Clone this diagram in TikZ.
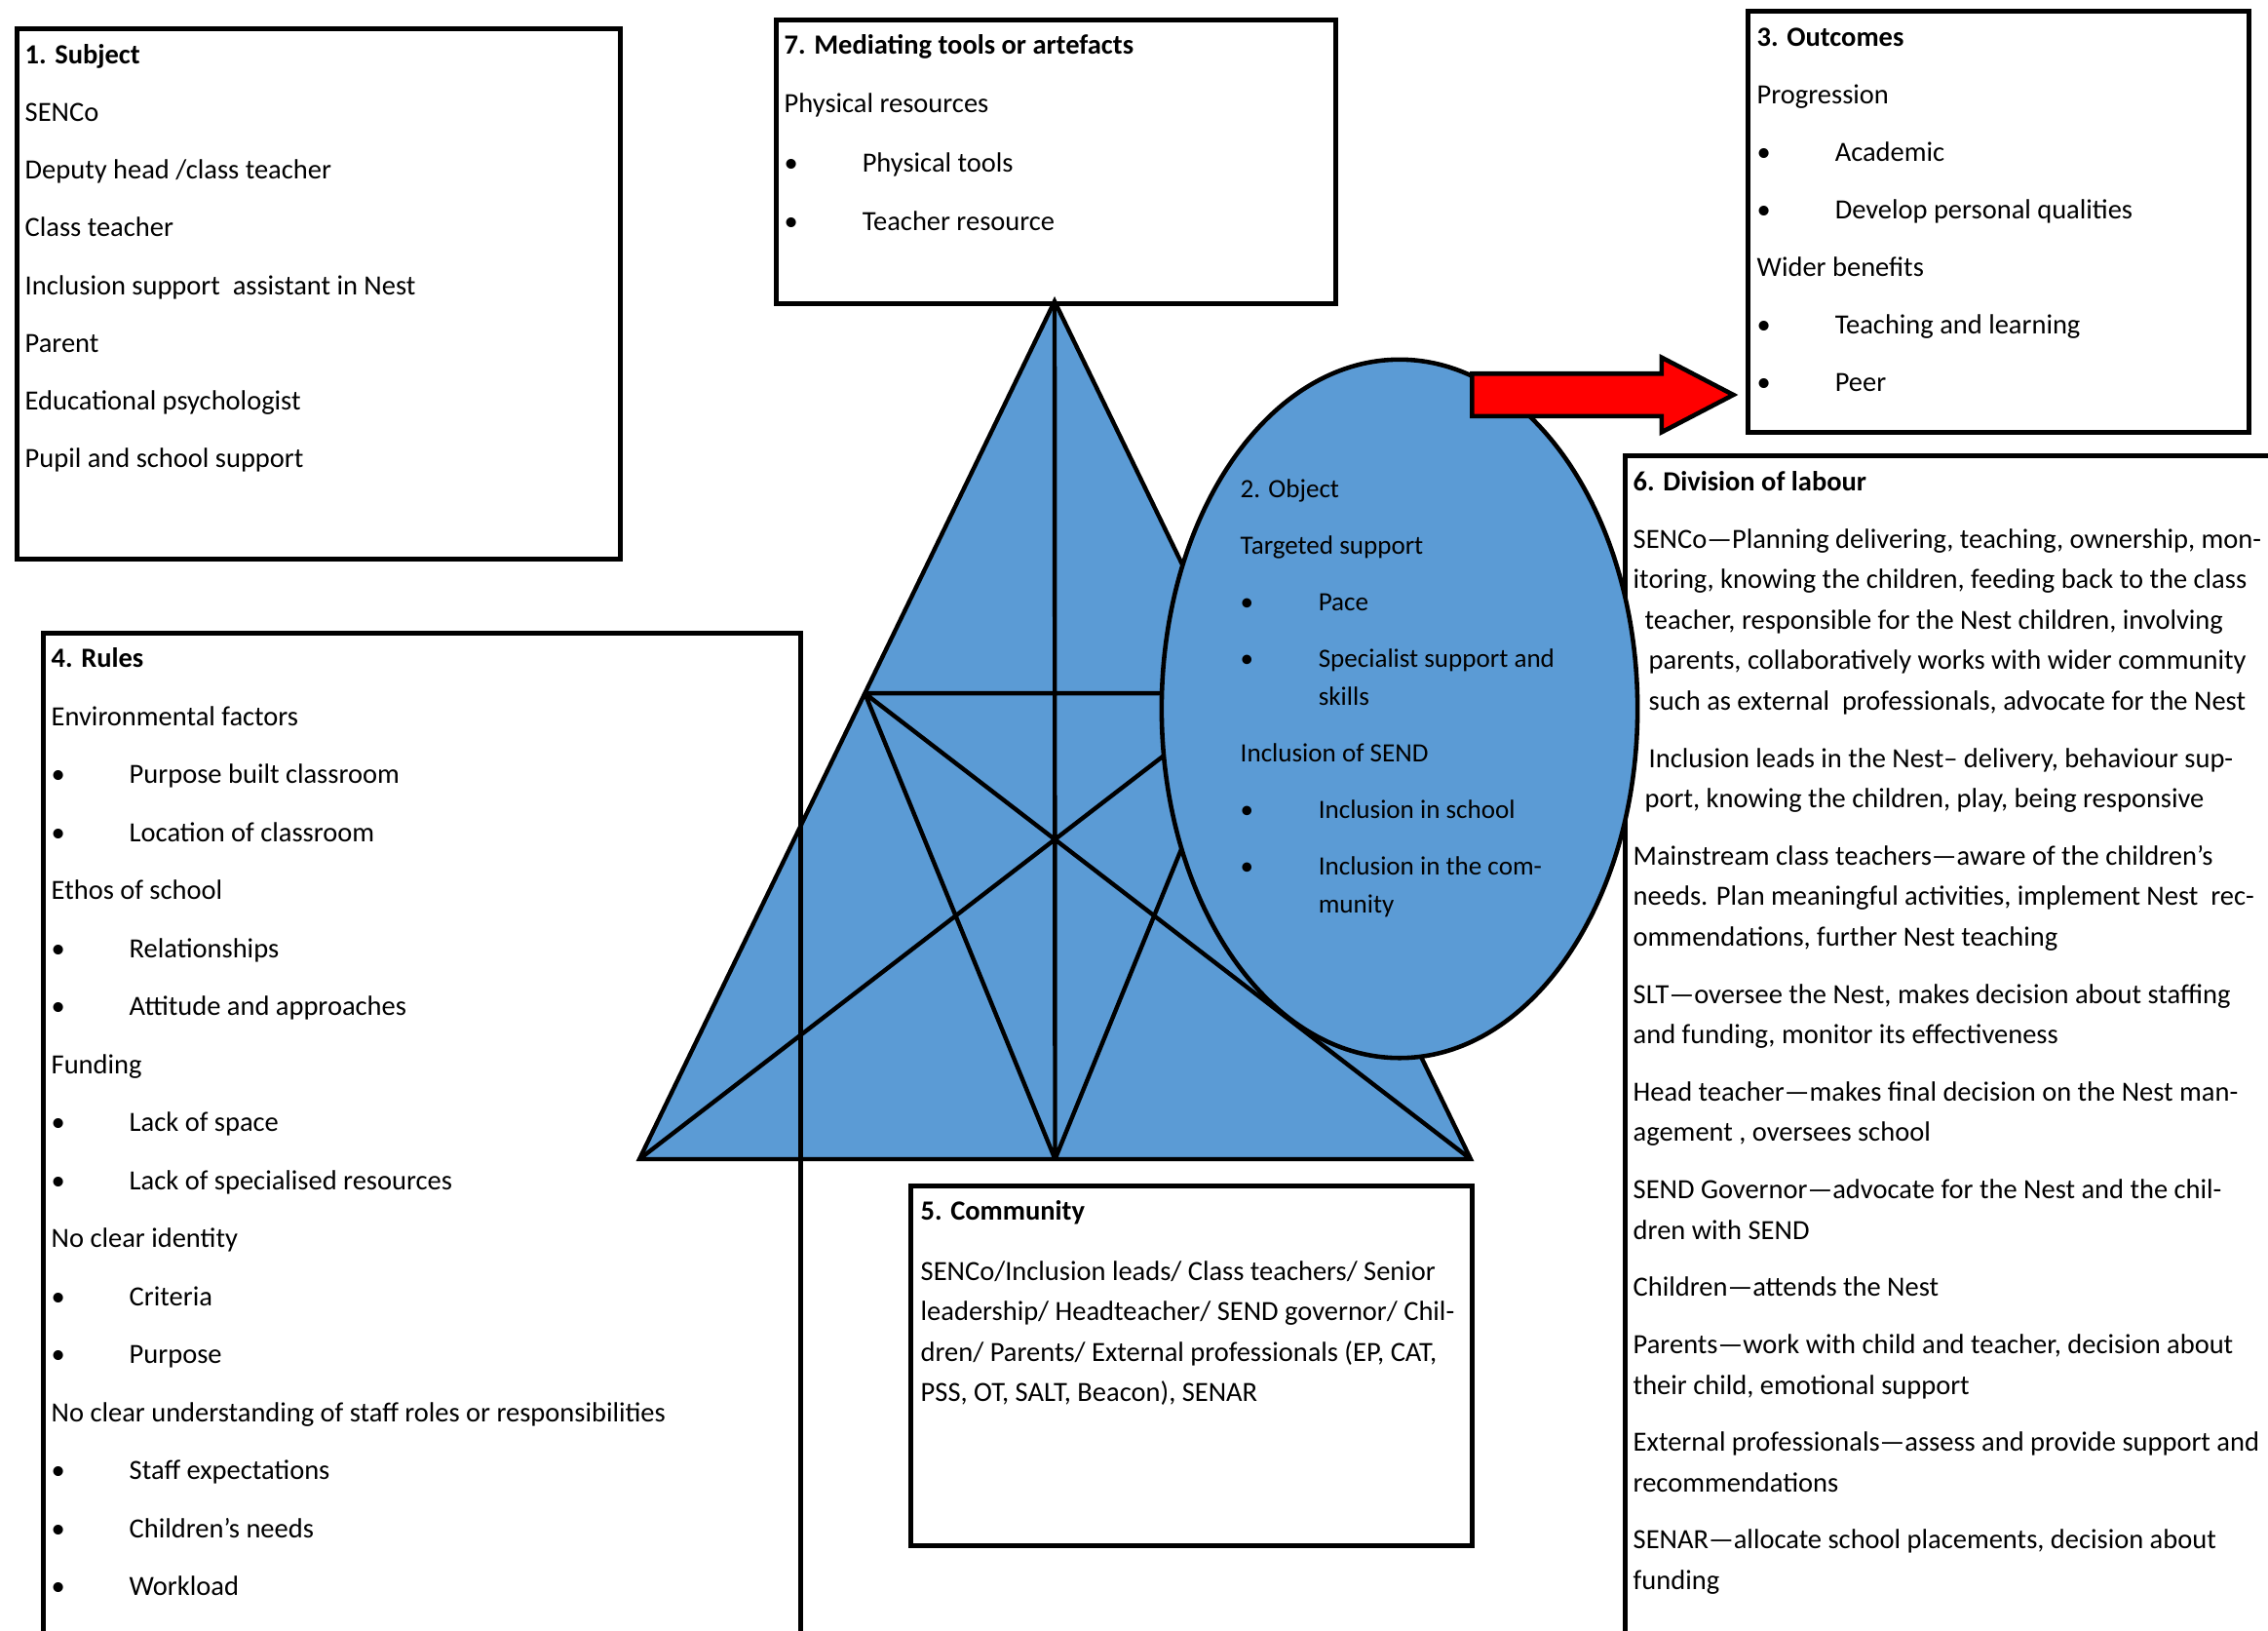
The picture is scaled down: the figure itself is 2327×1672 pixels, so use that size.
\documentclass[tikz,border=0pt]{standalone}
\usepackage{fontspec}
\setmainfont{Carlito}
\usetikzlibrary{arrows.meta,shapes.geometric,shapes.arrows,calc}
\definecolor{triblue}{RGB}{91,155,213}
\newcommand{\bullitem}[1]{\makebox[0.8cm][l]{\textbullet}#1}
\tikzset{
  box/.style     = {rectangle, draw=black, line width=1.3pt, anchor=north west, inner sep=0pt},
  txt/.style     = {anchor=north west, align=left, inner sep=0pt, font=\fontsize{8.1}{16.8}\selectfont},
  wraptxt/.style = {txt, font=\fontsize{8.1}{11.8}\selectfont},
  tri/.style     = {draw=black, line width=1.25pt},
  oval/.style    = {ellipse, draw=black, line width=1.3pt, fill=triblue, inner sep=0pt},
  bigarrow/.style = {single arrow, draw=black, fill=red, line width=1.3pt, inner sep=0.195cm,
                     minimum height=2.68cm, single arrow head extend=0.165cm,
                     single arrow tip angle=55, single arrow head indent=0pt}
}
\begin{document}
\begin{tikzpicture}[x=0.01cm, y=-0.01cm]
    \useasboundingbox (0,0) rectangle (2327,1672);
    \coordinate (apex) at (1082,309);
    \coordinate (bl) at (656,1189);
    \coordinate (br) at (1509,1189);
    \coordinate (pl) at ($(apex)!0.457!(bl)$);
    \coordinate (pr) at ($(apex)!0.457!(br)$);
    \coordinate (bm) at ($(bl)!0.5!(br)$);
    \draw[tri, fill=triblue] (apex) -- (bl) -- (br) -- cycle;
    \draw[tri] (apex) -- (bm) (pl) -- (pr) (pl) -- (bm) (pl) -- (br) (pr) -- (bm) (pr) -- (bl);
    \node[box, minimum width=6.19cm, minimum height=5.44cm] (subject) at (15,27) {};
    \node[box, minimum width=5.74cm, minimum height=2.91cm] (tools) at (794,18) {};
    \node[box, minimum width=5.14cm, minimum height=4.32cm] (outcomes) at (1791,9) {};
    \node[box, minimum width=7.77cm, minimum height=11cm] (rules) at (42,647) {};
    \node[box, minimum width=5.76cm, minimum height=3.69cm] (community) at (932,1214) {};
    \node[box, minimum width=7.2cm, minimum height=13cm] (labour) at (1665,465) {};
    \node[oval, minimum width=4.88cm, minimum height=7.16cm] (object) at (1436,727) {};
    \node[bigarrow, anchor=tail] (flow) at (1508,405) {};
    \node[txt] (subjecttxt) at ([shift={(10,18)}]subject.north west)
      {\textbf{1. Subject}\\ SENCo\\ Deputy head /class teacher\\ Class teacher\\
       Inclusion support~ assistant in Nest\\ Parent\\ Educational psychologist\\
       Pupil and school support};
    \node[txt, font=\fontsize{8.1}{17.1}\selectfont] (toolstxt) at ([shift={(10,17)}]tools.north west)
      {\textbf{7. Mediating tools or artefacts}\\ Physical resources\\
       \bullitem{Physical tools}\\ \bullitem{Teacher resource}};
    \node[txt] (outcomestxt) at ([shift={(11,19)}]outcomes.north west)
      {\textbf{3. Outcomes}\\ Progression\\ \bullitem{Academic}\\
       \bullitem{Develop personal qualities}\\ Wider benefits\\
       \bullitem{Teaching and learning}\\ \bullitem{Peer}};
    \node[txt, font=\fontsize{8.1}{16.92}\selectfont] (rulestxt) at ([shift={(10,17)}]rules.north west)
      {\textbf{4. Rules}\\ Environmental factors\\ \bullitem{Purpose built classroom}\\
       \bullitem{Location of classroom}\\ Ethos of school\\ \bullitem{Relationships}\\
       \bullitem{Attitude and approaches}\\ Funding\\ \bullitem{Lack of space}\\
       \bullitem{Lack of specialised resources}\\ No clear identity\\ \bullitem{Criteria}\\
       \bullitem{Purpose}\\ No clear understanding of staff roles or responsibilities\\
       \bullitem{Staff expectations}\\ \bullitem{Children’s needs}\\ \bullitem{Workload}};
    \node[wraptxt] (communitytxt) at ([shift={(12,17)}]community.north west)
      {\textbf{5. Community}\\[5.7pt]
       SENCo/Inclusion leads/ Class teachers/ Senior\\
       leadership/ Headteacher/ SEND governor/ Chil-\\
       dren/ Parents/ External professionals (EP, CAT,\\
       PSS, OT, SALT, Beacon), SENAR};
    \node[wraptxt, font=\fontsize{7.7}{11}\selectfont] (objecttxt) at ([shift={(-164,-236)}]object.center)
      {2. Object\\[5.5pt] Targeted support\\[5.5pt] \bullitem{Pace}\\[5.5pt]
       \bullitem{Specialist support and}\\ \hspace*{0.8cm}skills\\[5.5pt]
       Inclusion of SEND\\[5.5pt] \bullitem{Inclusion in school}\\[5.5pt]
       \bullitem{Inclusion in the com-}\\ \hspace*{0.8cm}munity};
    \node[wraptxt] (labourtxt) at ([shift={(10,18)}]labour.north west)
      {\textbf{6. Division of labour}\\[4.9pt]
       SENCo—Planning delivering, teaching, ownership, mon-\\
       itoring, knowing the children, feeding back to the class\\
       \hspace*{0.12cm}teacher, responsible for the Nest children, involving\\
       \hspace*{0.16cm}parents, collaboratively works with wider community\\
       \hspace*{0.16cm}such as external~ professionals, advocate for the Nest\\[4.9pt]
       \hspace*{0.16cm}Inclusion leads in the Nest– delivery, behaviour sup-\\
       \hspace*{0.12cm}port, knowing the children, play, being responsive\\[4.9pt]
       Mainstream class teachers—aware of the children’s\\
       needs. Plan meaningful activities, implement Nest~ rec-\\
       ommendations, further Nest teaching\\[4.9pt]
       SLT—oversee the Nest, makes decision about staffing\\
       and funding, monitor its effectiveness\\[4.9pt]
       Head teacher—makes final decision on the Nest man-\\
       agement , oversees school\\[4.9pt]
       SEND Governor—advocate for the Nest and the chil-\\
       dren with SEND\\[4.9pt]
       Children—attends the Nest\\[4.9pt]
       Parents—work with child and teacher, decision about\\
       their child, emotional support\\[4.9pt]
       External professionals—assess and provide support and\\
       recommendations\\[4.9pt]
       SENAR—allocate school placements, decision about\\
       funding};
\end{tikzpicture}
\end{document}
